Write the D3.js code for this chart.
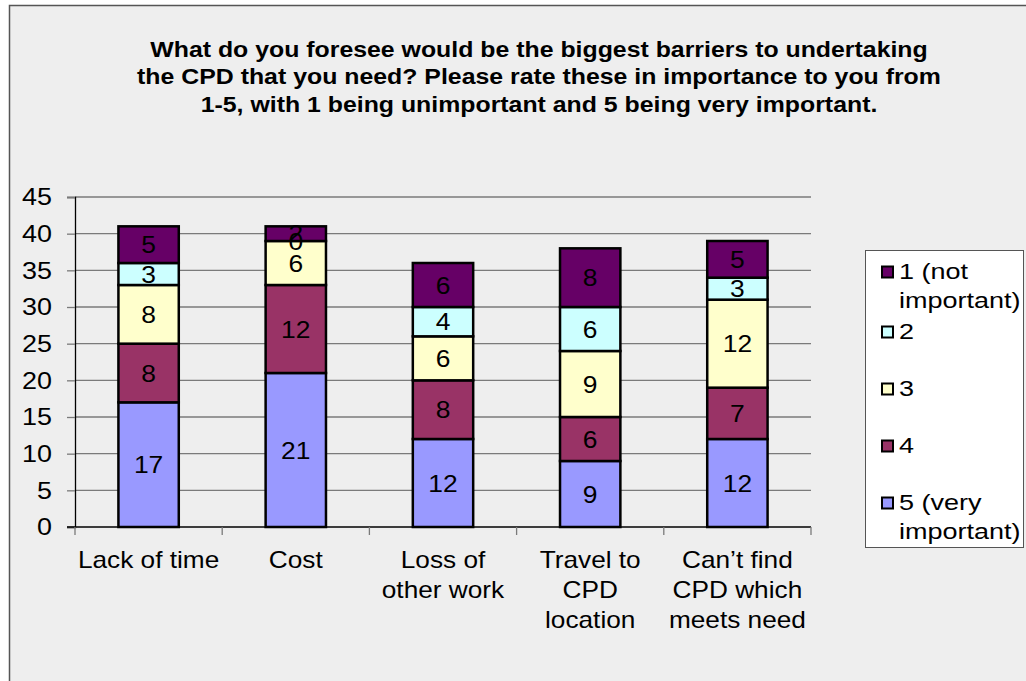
<!DOCTYPE html>
<html>
<head>
<meta charset="utf-8">
<script src="https://cdn.jsdelivr.net/npm/d3@7"></script>
<style>
  html, body { margin: 0; padding: 0; background: #ffffff; }
  svg { display: block; font-family: "Liberation Sans", Arial, sans-serif; }
</style>
</head>
<body>
<svg id="chart" width="1026" height="681"></svg>
<script>
// Survey responses: number of people rating each barrier at each importance level
const categories = [
  ["Lack of time"],
  ["Cost"],
  ["Loss of", "other work"],
  ["Travel to", "CPD", "location"],
  ["Can\u2019t find", "CPD which", "meets need"]
];
const seriesNames = ["5 (very important)", "4", "3", "2", "1 (not important)"];
const rating5 = [17, 21, 12, 9, 12];
const rating4 = [8, 12, 8, 6, 7];
const rating3 = [8, 6, 6, 9, 12];
const rating2 = [3, 0, 4, 6, 3];
const rating1 = [5, 2, 6, 8, 5];
const yTicks = [0, 5, 10, 15, 20, 25, 30, 35, 40, 45];
const legendLines = [
  ["1 (not", "important)"],
  ["2"],
  ["3"],
  ["4"],
  ["5 (very", "important)"]
];
const titleLines = [
  "What do you foresee would be the biggest barriers to undertaking",
  "the CPD that you need? Please rate these in importance to you from",
  "1-5, with 1 being unimportant and 5 being very important."
];

const colors = ["#9999ff", "#993366", "#ffffcc", "#ccffff", "#660066"];
const seriesValues = [rating5, rating4, rating3, rating2, rating1];

const rows = categories.map((c, i) => {
  const r = { key: i };
  seriesNames.forEach((s, j) => { r[s] = seriesValues[j][i]; });
  return r;
});
const stack = d3.stack().keys(seriesNames)(rows);

const svg = d3.select("#chart");

// Widen a text horizontally about its anchor x
function widen(sel, ax, sx) {
  sel.attr("transform", `translate(${ax},0) scale(${sx},1) translate(${-ax},0)`);
}

// Chart frame
svg.append("rect")
  .attr("x", 9.5).attr("y", 5.5)
  .attr("width", 1030).attr("height", 690)
  .attr("fill", "#eeeeee").attr("stroke", "#555555").attr("stroke-width", 1.5);

// Title
const title = svg.append("text")
  .attr("text-anchor", "middle")
  .attr("font-size", 22).attr("font-weight", "bold").attr("fill", "#000");
titleLines.forEach((t, i) => {
  title.append("tspan").attr("x", 539).attr("y", 57 + i * 27.5).text(t);
});
widen(title, 539, 1.13);

// Plot geometry
const plot = { left: 75, right: 811, top: 197, bottom: 527 };
const x = d3.scaleBand()
  .domain(d3.range(categories.length))
  .range([plot.left, plot.right])
  .paddingInner(0.59).paddingOuter(0.295);
const y = d3.scaleLinear().domain([0, 45]).range([plot.bottom, plot.top]);

// Horizontal gridlines
svg.append("g").selectAll("line")
  .data(yTicks.filter(v => v > 0))
  .join("line")
  .attr("x1", plot.left).attr("x2", plot.right)
  .attr("y1", d => y(d)).attr("y2", d => y(d))
  .attr("stroke", "#7a7a7a").attr("stroke-width", 1.3);

// Y axis line and ticks
const yAxis = svg.append("g")
  .attr("transform", `translate(${plot.left},0)`)
  .call(d3.axisLeft(y).tickValues(yTicks).tickSize(8).tickFormat(""));
yAxis.select(".domain").attr("stroke", "#000").attr("stroke-width", 1.3);
yAxis.selectAll(".tick line").attr("stroke", "#7a7a7a").attr("stroke-width", 1.3);

// Y tick labels
const yLab = svg.append("g").attr("text-anchor", "end")
  .attr("font-size", 23).attr("fill", "#000");
yTicks.forEach(v => {
  const t = yLab.append("text").attr("x", 52).attr("y", y(v) + 8.3).text(v);
  widen(t, 52, 1.17);
});

// Stacked bars
const layers = svg.append("g").selectAll("g")
  .data(stack)
  .join("g")
  .attr("fill", (d, i) => colors[i]);
layers.selectAll("rect")
  .data(d => d)
  .join("rect")
  .attr("x", (d, i) => x(i))
  .attr("width", x.bandwidth())
  .attr("y", d => y(d[1]))
  .attr("height", d => y(d[0]) - y(d[1]))
  .attr("stroke", "#000").attr("stroke-width", 2.5);

// X axis baseline and category ticks
svg.append("line")
  .attr("x1", plot.left - 8).attr("x2", plot.right)
  .attr("y1", plot.bottom).attr("y2", plot.bottom)
  .attr("stroke", "#000").attr("stroke-width", 1.3);
const step = (plot.right - plot.left) / categories.length;
svg.append("g").selectAll("line")
  .data(d3.range(categories.length + 1))
  .join("line")
  .attr("x1", d => plot.left + d * step).attr("x2", d => plot.left + d * step)
  .attr("y1", plot.bottom).attr("y2", plot.bottom + 8)
  .attr("stroke", "#7a7a7a").attr("stroke-width", 1.3);

// Value labels centred in each segment
const labels = svg.append("g")
  .attr("text-anchor", "middle")
  .attr("font-size", 24).attr("fill", "#000");
stack.forEach(layer => {
  layer.forEach((d, i) => {
    const cx = x(i) + x.bandwidth() / 2;
    const t = labels.append("text")
      .attr("x", cx)
      .attr("y", (y(d[0]) + y(d[1])) / 2)
      .attr("dy", "0.36em")
      .text(d.data[layer.key]);
    widen(t, cx, 1.1);
  });
});

// Category labels
const catG = svg.append("g")
  .attr("text-anchor", "middle")
  .attr("font-size", 23).attr("fill", "#000");
categories.forEach((lines, i) => {
  const cx = x(i) + x.bandwidth() / 2;
  const t = catG.append("text");
  lines.forEach((ln, k) => {
    t.append("tspan").attr("x", cx).attr("y", 568 + k * 30).text(ln);
  });
  widen(t, cx, 1.14);
});

// Legend
const legend = svg.append("g");
legend.append("rect")
  .attr("x", 865.5).attr("y", 250.5)
  .attr("width", 158).attr("height", 297)
  .attr("fill", "#ffffff").attr("stroke", "#555555").attr("stroke-width", 1);
const legendY = [279, 339, 396, 453, 510];
legendLines.forEach((lines, i) => {
  const colorIdx = seriesNames.length - 1 - i;
  legend.append("rect")
    .attr("x", 882).attr("y", legendY[i] - 12.5)
    .attr("width", 11).attr("height", 11)
    .attr("fill", colors[colorIdx])
    .attr("stroke", "#000").attr("stroke-width", 2);
  const t = legend.append("text").attr("font-size", 22.5).attr("fill", "#000");
  lines.forEach((ln, k) => {
    t.append("tspan").attr("x", 899).attr("y", legendY[i] + k * 29).text(ln);
  });
  widen(t, 899, 1.2);
});
</script>
</body>
</html>
